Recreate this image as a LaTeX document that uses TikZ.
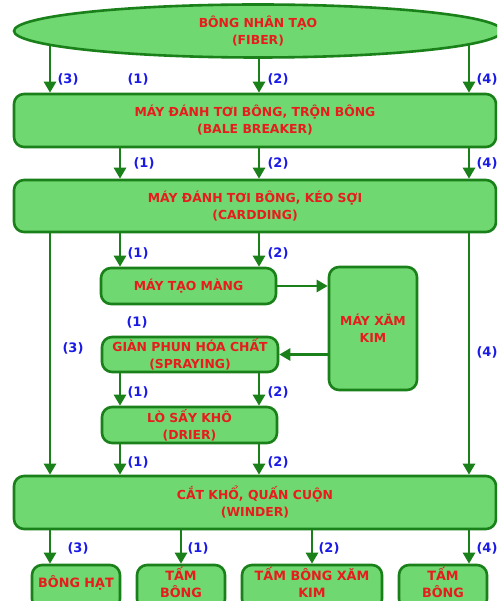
\documentclass[tikz,border=0pt]{standalone}
\usepackage{fontspec}
\setmainfont{DejaVu Sans}
\usetikzlibrary{arrows.meta,shapes.geometric,backgrounds}
\definecolor{boxfill}{RGB}{112,216,112}
\definecolor{boxline}{RGB}{26,128,26}
\definecolor{txtred}{RGB}{232,28,28}
\definecolor{lblblue}{RGB}{26,26,230}
% set a product label a little above the centre of its box
\newcommand{\liftup}[1]{\raisebox{2.5pt}[\height][\depth]{\begin{tabular}{@{}c@{}}#1\end{tabular}}}
\begin{document}
\begin{tikzpicture}[x=1pt,y=-1pt,
  stage/.style={rectangle, draw=boxline, line width=2.6pt, fill=boxfill,
    rounded corners=10pt, text=txtred,
    font=\fontsize{12.4}{17}\selectfont\bfseries, align=center, inner sep=0pt},
  product/.style={stage, minimum height=44pt,
    font=\fontsize{12.8}{17}\selectfont\bfseries},
  flow/.style={draw=boxline, line width=2.6pt, -{Triangle[length=11pt,width=12pt]}},
  num/.style={text=lblblue, font=\fontsize{13}{15}\selectfont\bfseries, inner sep=0pt},
]
\useasboundingbox (0,0) rectangle (497,601);
\clip (0,0) rectangle (497,601);

% columns used by the vertical connectors
\coordinate (cA) at (50,0);
\coordinate (cB) at (120,0);
\coordinate (cC) at (259,0);
\coordinate (cD) at (469,0);
\coordinate (cE) at (181,0);
\coordinate (cF) at (312,0);

% process stages
\node[stage, ellipse, rounded corners=0pt, minimum width=488pt, minimum height=53pt]
  (fiber) at (258,31) {BÔNG NHÂN TẠO\\(FIBER)};
\node[stage, minimum width=482pt, minimum height=53pt] (bale) at (255,120.5)
  {MÁY ĐÁNH TƠI BÔNG, TRỘN BÔNG\\(BALE BREAKER)};
\node[stage, minimum width=482pt, minimum height=52pt] (card) at (255,206)
  {MÁY ĐÁNH TƠI BÔNG, KÉO SỢI\\(CARDDING)};
\node[stage, minimum width=175pt, minimum height=36pt] (mang) at (188.5,286)
  {MÁY TẠO MÀNG};
\node[stage, minimum width=88pt, minimum height=123pt] (xam) at (373,328.5)
  {MÁY XĂM\\KIM};
\node[stage, minimum width=176pt, minimum height=35pt] (spray) at (190,354.5)
  {GIÀN PHUN HÓA CHẤT\\(SPRAYING)};
\node[stage, minimum width=175pt, minimum height=36pt] (drier) at (189.5,425)
  {LÒ SẤY KHÔ\\(DRIER)};
\node[stage, minimum width=482pt, minimum height=53pt] (winder) at (255,502.5)
  {CẮT KHỔ, QUẤN CUỘN\\(WINDER)};

% products
\node[product, minimum width=88pt] (hat) at (76,587) {\liftup{BÔNG HẠT}};
\node[product, minimum width=88pt] (tamA) at (181,587) {\liftup{TẤM\\BÔNG}};
\node[product, minimum width=140pt] (tamxam) at (312,587) {\liftup{TẤM BÔNG XĂM\\KIM}};
\node[product, minimum width=88pt] (tamB) at (443,587) {\liftup{TẤM\\BÔNG}};

% route labels
\node[num] (l1) at (68,79) {(3)};
\node[num] (l2) at (138,79) {(1)};
\node[num] (l3) at (278,79) {(2)};
\node[num] (l4) at (487,79) {(4)};
\node[num] (l5) at (144,163) {(1)};
\node[num] (l6) at (278,163) {(2)};
\node[num] (l7) at (487,163) {(4)};
\node[num] (l8) at (138,253) {(1)};
\node[num] (l9) at (278,253) {(2)};
\node[num] (l10) at (137,322) {(1)};
\node[num] (l11) at (73,348) {(3)};
\node[num] (l12) at (487,352) {(4)};
\node[num] (l13) at (138,392) {(1)};
\node[num] (l14) at (278,392) {(2)};
\node[num] (l15) at (138,462) {(1)};
\node[num] (l16) at (278,462) {(2)};
\node[num] (l17) at (78,548) {(3)};
\node[num] (l18) at (198,548) {(1)};
\node[num] (l19) at (329,548) {(2)};
\node[num] (l20) at (487,548) {(4)};

% connectors, drawn beneath the stages
\begin{scope}[on background layer]
  \fill[white] (0,0) rectangle (497,601);
  \draw[flow] (fiber -| cA) -- (bale.north -| cA);
  \draw[flow] (fiber -| cC) -- (bale.north -| cC);
  \draw[flow] (fiber -| cD) -- (bale.north -| cD);
  \draw[flow] (bale -| cB) -- (card.north -| cB);
  \draw[flow] (bale -| cC) -- (card.north -| cC);
  \draw[flow] (bale -| cD) -- (card.north -| cD);
  \draw[flow] (card -| cB) -- (mang.north -| cB);
  \draw[flow] (card -| cC) -- (mang.north -| cC);
  \draw[flow] (card -| cA) -- (winder.north -| cA);
  \draw[flow] (card -| cD) -- (winder.north -| cD);
  \draw[flow] (mang.east) -- (mang.east -| xam.west);
  \draw[flow] (xam.west |- spray.east) -- (spray.east);
  \draw[flow] (spray -| cB) -- (drier.north -| cB);
  \draw[flow] (spray -| cC) -- (drier.north -| cC);
  \draw[flow] (drier -| cB) -- (winder.north -| cB);
  \draw[flow] (drier -| cC) -- (winder.north -| cC);
  \draw[flow] (winder -| cA) -- (hat.north -| cA);
  \draw[flow] (winder -| cE) -- (tamA.north -| cE);
  \draw[flow] (winder -| cF) -- (tamxam.north -| cF);
  \draw[flow] (winder -| cD) -- (tamB.north -| cD);
\end{scope}
\end{tikzpicture}
\end{document}
